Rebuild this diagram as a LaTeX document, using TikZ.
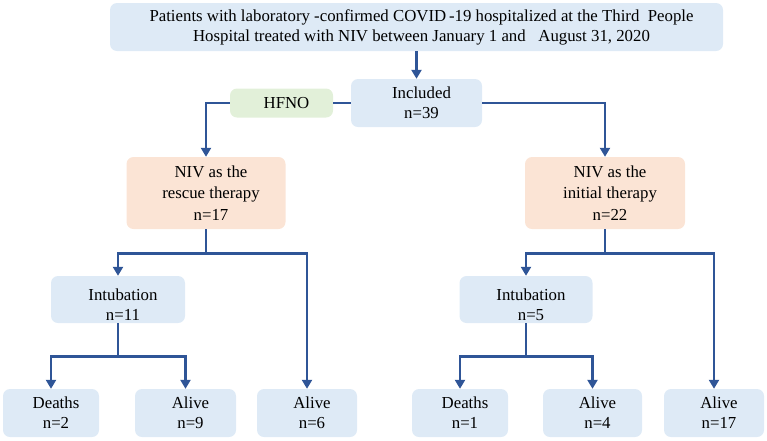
\documentclass[tikz,border=0pt]{standalone}
\usepackage{fontspec}
\setmainfont{Liberation Serif}
\usetikzlibrary{arrows.meta}
\definecolor{boxblue}{HTML}{DEEAF6}
\definecolor{boxpeach}{HTML}{FBE4D5}
\definecolor{boxgreen}{HTML}{E2F0D9}
\definecolor{linkblue}{HTML}{2F5597}
\tikzset{
  basebox/.style={rectangle, rounded corners=7pt, draw=none, inner sep=0pt},
  bluebox/.style={basebox, fill=boxblue},
  peachbox/.style={basebox, fill=boxpeach},
  greenbox/.style={basebox, fill=boxgreen},
  txt/.style={align=center, inner sep=0pt, xshift=5pt, text=black,
    font=\fontsize{16.8}{20}\selectfont},
  txtthree/.style={txt, font=\fontsize{16.8}{21.5}\selectfont},
  link/.style={draw=linkblue, line width=2.6pt},
  arrowlink/.style={link, -{Triangle[width=10pt,length=9pt]}},
}
\begin{document}
\begin{tikzpicture}[x=1pt, y=-1pt]
\useasboundingbox (0,0) rectangle (767,440);

\node[bluebox, minimum width=613, minimum height=48,
  label={[txt]center:{Patients with laboratory -confirmed COVID\,-19 hospitalized at the Third\ \ People\\Hospital treated with NIV between January 1 and\ \ \ August 31, 2020}}]
  (top) at (416.5,27) {};

\node[bluebox, minimum width=131, minimum height=48,
  label={[txt]center:{Included\\n=39}}] (incl) at (416.5,103) {};
\node[greenbox, minimum width=103, minimum height=29,
  label={[txt]center:{HFNO}}] (hfno) at (281.5,103) {};

\node[peachbox, minimum width=159, minimum height=72,
  label={[txtthree]center:{NIV as the\\rescue therapy\\n=17}}] (rescue) at (206,193) {};
\node[peachbox, minimum width=160, minimum height=72,
  label={[txtthree]center:{NIV as the\\initial therapy\\n=22}}] (initial) at (605,193) {};

\node[bluebox, minimum width=134, minimum height=47,
  label={[txt, yshift=-5pt]center:{Intubation\\n=11}}] (intubA) at (118,299.5) {};
\node[bluebox, minimum width=133, minimum height=47,
  label={[txt, yshift=-5pt]center:{Intubation\\n=5}}] (intubB) at (526,299.5) {};

\node[bluebox, minimum width=96, minimum height=48,
  label={[txt]center:{Deaths\\n=2}}] (deathA) at (51,413) {};
\node[bluebox, minimum width=101, minimum height=48,
  label={[txt]center:{Alive\\n=9}}] (aliveA) at (185.5,413) {};
\node[bluebox, minimum width=100, minimum height=48,
  label={[txt]center:{Alive\\n=6}}] (aliveB) at (307,413) {};
\node[bluebox, minimum width=96, minimum height=48,
  label={[txt]center:{Deaths\\n=1}}] (deathB) at (460,413) {};
\node[bluebox, minimum width=99, minimum height=48,
  label={[txt]center:{Alive\\n=4}}] (aliveC) at (592.5,413) {};
\node[bluebox, minimum width=100, minimum height=48,
  label={[txt]center:{Alive\\n=17}}] (aliveD) at (714,413) {};

% connectors
\draw[arrowlink] (top.south) -- (incl.north);
\draw[link] (incl.west) -- (hfno.east);
\draw[arrowlink] (hfno.west) -| (rescue.north);
\draw[arrowlink] (incl.east) -| (initial.north);

\draw[arrowlink] (rescue.south) -- ++(0,24) -| (intubA.north);
\draw[arrowlink] (rescue.south) -- ++(0,24) -| (aliveB.north);
\draw[arrowlink] (initial.south) -- ++(0,24) -| (intubB.north);
\draw[arrowlink] (initial.south) -- ++(0,24) -| (aliveD.north);

\draw[arrowlink] (intubA.south) -- ++(0,33) -| (deathA.north);
\draw[arrowlink] (intubA.south) -- ++(0,33) -| (aliveA.north);
\draw[arrowlink] (intubB.south) -- ++(0,33) -| (deathB.north);
\draw[arrowlink] (intubB.south) -- ++(0,33) -| (aliveC.north);
\end{tikzpicture}
\end{document}
